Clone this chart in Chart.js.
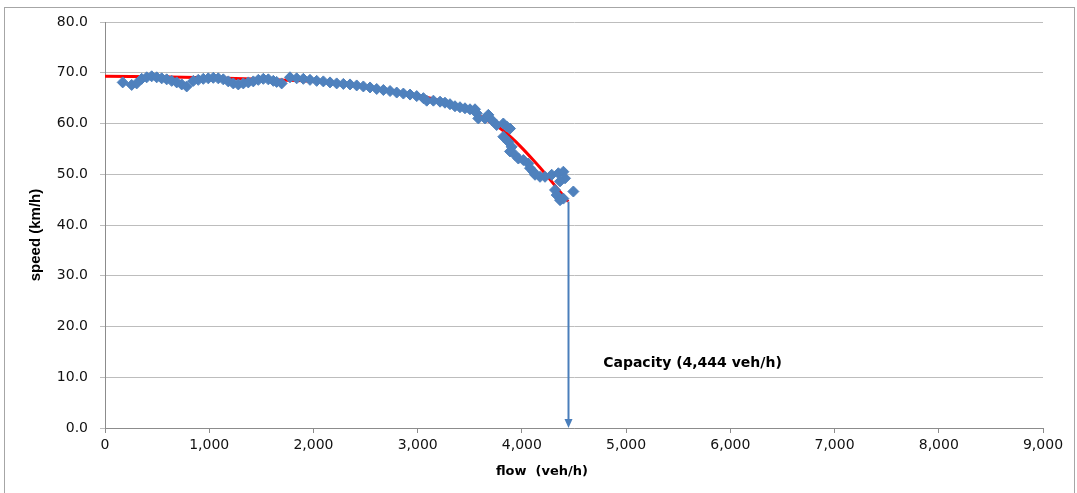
<!DOCTYPE html>
<html>
<head>
<meta charset="utf-8">
<script src="https://cdn.jsdelivr.net/npm/chart.js@4.4.0/dist/chart.umd.min.js"></script>
<style>
  html, body { margin: 0; padding: 0; background: #fff; }
  #wrap { width: 1077px; height: 493px; position: relative; }
</style>
</head>
<body>
<div id="wrap"><canvas id="c" width="1077" height="493"></canvas></div>
<script>
// Observed data: flow (veh/h) and speed (km/h)
const obsFlow = [170,256,304,352,400,448,496,544,592,640,688,736,784,848,895,943,991,1039,1087,1135,1183,1231,1279,1327,1375,1423,1471,1519,1567,1615,1647,1695,1775,1839,1903,1967,2031,2095,2159,2223,2287,2351,2415,2479,2543,2607,2671,2735,2799,2863,2927,2991,3055,3087,3151,3215,3262,3310,3358,3406,3454,3502,3550,3567,3582,3646,3678,3710,3758,3822,3854,3886,3822,3870,3902,3886,3934,3966,4014,4062,4078,4110,4126,4174,4222,4286,4350,4398,4414,4366,4318,4334,4366,4398,4494];
const obsSpeed = [68.1,67.6,67.9,68.8,69.1,69.3,69.1,68.9,68.7,68.4,68.1,67.7,67.3,68.4,68.6,68.8,68.9,69.0,68.9,68.7,68.3,67.9,67.7,67.9,68.1,68.3,68.6,68.8,68.7,68.4,68.2,67.9,69.1,68.9,68.8,68.6,68.4,68.3,68.1,67.9,67.8,67.7,67.5,67.3,67.1,66.8,66.6,66.4,66.1,65.9,65.7,65.4,65.0,64.5,64.5,64.3,64.1,63.8,63.4,63.2,63.0,62.8,62.8,62.0,61.0,61.0,61.7,60.7,59.7,60.0,59.4,59.0,57.4,56.4,55.4,54.5,53.8,53.1,52.8,52.1,51.2,50.5,49.9,49.5,49.5,49.9,50.2,50.5,49.2,48.6,46.9,45.9,44.9,45.2,46.6];

// Fitted speed-flow curve
const fitFlow = [0,500,1000,1500,2000,2500,3000,3300,3500,3600,3700,3800,3900,4000,4100,4200,4300,4400,4444];
const fitSpeed = [69.3,69.2,69.0,68.7,68.3,67.3,65.5,64.0,62.4,61.4,60.2,58.9,57.2,55.2,53.0,50.7,48.2,45.7,44.6];

const capacityFlow = 4444;
const capacityLabel = 'Capacity (4,444 veh/h)';
const xTitle = 'flow  (veh/h)';
const yTitle = 'speed (km/h)';

const obsPoints = obsFlow.map((f, i) => ({x: f, y: obsSpeed[i]}));
const fitPoints = fitFlow.map((f, i) => ({x: f, y: fitSpeed[i]}));

const extras = {
  id: 'extras',
  beforeDraw(chart) {
    const ctx = chart.ctx;
    ctx.save();
    ctx.fillStyle = '#fff';
    ctx.fillRect(0, 0, chart.width, chart.height);
    ctx.strokeStyle = '#a6a6a6';
    ctx.lineWidth = 1;
    ctx.strokeRect(4.5, 7.5, 1070, 500);
    ctx.restore();
  },
  afterDraw(chart) {
    const ctx = chart.ctx;
    const xs = chart.scales.x, ys = chart.scales.y;
    ctx.save();
    // capacity arrow
    const ax = Math.round(xs.getPixelForValue(capacityFlow)) + 0.5;
    const yTop = ys.getPixelForValue(fitSpeed[fitSpeed.length - 1]);
    const yBot = ys.getPixelForValue(0);
    ctx.strokeStyle = '#4a7ebb';
    ctx.fillStyle = '#4a7ebb';
    ctx.lineWidth = 2;
    ctx.beginPath();
    ctx.moveTo(ax, yTop);
    ctx.lineTo(ax, yBot - 7);
    ctx.stroke();
    ctx.beginPath();
    ctx.moveTo(ax - 4, yBot - 9);
    ctx.lineTo(ax + 4, yBot - 9);
    ctx.lineTo(ax, yBot);
    ctx.closePath();
    ctx.fill();
    // annotation
    ctx.fillStyle = '#000';
    ctx.font = 'bold 14px "DejaVu Sans", Verdana, sans-serif';
    ctx.textBaseline = 'middle';
    ctx.textAlign = 'left';
    ctx.fillText(capacityLabel, xs.getPixelForValue(4780), ys.getPixelForValue(12.8));
    // axis titles
    ctx.font = 'bold 13px "DejaVu Sans", Verdana, sans-serif';
    ctx.textAlign = 'center';
    ctx.fillText(xTitle, 542, 472);
    ctx.translate(36, 235);
    ctx.rotate(-Math.PI / 2);
    ctx.font = 'bold 15px "Liberation Sans Narrow", "Liberation Sans", sans-serif';
    ctx.fillText(yTitle, 0, 0);
    ctx.restore();
  }
};

new Chart(document.getElementById('c'), {
  type: 'scatter',
  data: {
    datasets: [
      {
        label: 'observed',
        data: obsPoints,
        pointStyle: 'rectRot',
        pointRadius: 5.5,
        pointBackgroundColor: '#4f81bd',
        pointBorderColor: '#4f81bd',
        pointBorderWidth: 1,
        showLine: false
      },
      {
        label: 'fit',
        data: fitPoints,
        showLine: true,
        borderColor: '#ff0000',
        borderWidth: 3,
        pointRadius: 0,
        tension: 0.3,
        fill: false
      }
    ]
  },
  plugins: [extras],
  options: {
    responsive: false,
    animation: false,
    devicePixelRatio: 1,
    layout: { padding: { left: 0, top: 22, right: 34, bottom: 0 } },
    plugins: { legend: { display: false }, tooltip: { enabled: false } },
    scales: {
      x: {
        type: 'linear',
        min: 0, max: 9000,
        afterFit(s) { s.height = 65; },
        ticks: {
          stepSize: 1000,
          padding: 4,
          color: '#111',
          font: { family: '"DejaVu Sans", Verdana, sans-serif', size: 14 },
          callback: v => v.toLocaleString('en-US')
        },
        grid: { drawOnChartArea: false, color: '#8c8c8c', tickLength: 5 },
        border: { color: '#8c8c8c', width: 1 }
      },
      y: {
        type: 'linear',
        min: 0, max: 80,
        afterFit(s) { s.width = 105; },
        ticks: {
          stepSize: 10,
          padding: 12,
          color: '#111',
          font: { family: '"DejaVu Sans", Verdana, sans-serif', size: 14 },
          callback: v => v.toFixed(1)
        },
        grid: { color: '#bdbdbd', tickLength: 5 },
        border: { color: '#8c8c8c', width: 1 }
      }
    }
  }
});
</script>
</body>
</html>
